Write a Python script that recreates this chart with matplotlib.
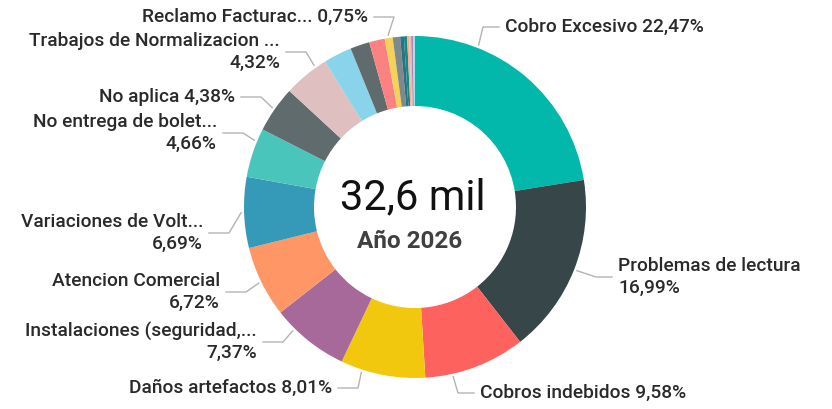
import matplotlib.pyplot as plt
import numpy as np

# Slices in drawing order (clockwise from 12 o'clock)
categories = ["Cobro Excesivo", "Problemas de lectura", "Cobros indebidos", "Daños artefactos",
              "Instalaciones (seguridad,...", "Atencion Comercial", "Variaciones de Volt...",
              "No entrega de bolet...", "No aplica", "Trabajos de Normalizacion ...",
              "Otro 1", "Otro 2", "Otro 3", "Reclamo Facturac...", "Otro 4",
              "Otro 5", "Otro 6", "Otro 7", "Otro 8", "Otro 9", "Otro 10"]
shares = [22.47, 16.99, 9.58, 8.01, 7.37, 6.72, 6.69, 4.66, 4.38, 4.32,
          2.67, 1.83, 1.47, 0.75, 0.70, 0.35, 0.30, 0.20, 0.18, 0.18, 0.18]
colors = ["#01B8AA", "#374649", "#FD625E", "#F2C80F", "#A66999", "#FE9666", "#3599B8",
          "#4AC5BB", "#5F6B6D", "#DFBFBF", "#8AD4EB", "#5F6B6D", "#FB8281", "#F4D25A",
          "#7F898A", "#28738A", "#168980", "#FDAB89", "#DFBFBF", "#B687AC", "#A4DDEE"]
total_label = "32,6 mil"
subtitle = "Año 2026"

# label layout: index -> (x, y, ha, two_lines) in pixel coords (y from top)
label_layout = {
    0: (505, 27, "left", False),
    1: (618, 277, "left", True),
    2: (480, 393, "left", False),
    3: (332, 388, "right", False),
    4: (257, 342, "right", True),
    5: (220, 292, "right", True),
    6: (203, 233, "right", True),
    7: (217, 133, "right", True),
    8: (235, 97, "right", False),
    9: (280, 52, "right", True),
    13: (368, 17, "right", False),
}
# where the leader leaves the ring, shift from the slice middle (degrees, clockwise)
leader_shift = {0: -19, 2: 8, 3: 7, 4: 6, 7: 4, 9: 4}

W, H = 832, 409
cx, cy = 415, 207
r_out, r_in = 171, 101

fig = plt.figure(figsize=(W / 100, H / 100), dpi=100)
ax = fig.add_axes([0, 0, 1, 1])

wedges, _ = ax.pie(shares, colors=colors, startangle=90, counterclock=False,
                   center=(cx, H - cy), radius=r_out,
                   wedgeprops=dict(width=r_out - r_in, edgecolor="none"))
# pie() resets the limits, so set them afterwards
ax.set_xlim(0, W)
ax.set_ylim(0, H)
ax.set_aspect("equal")
ax.axis("off")

font = "Roboto"
text_color = "#2a2a2a"
line_color = "#B3B3B3"

for i, (tx, ty, ha, two) in label_layout.items():
    pct = f"{shares[i]:.2f}".replace(".", ",") + "%"
    txt = f"{categories[i]}\n{pct}" if two else f"{categories[i]} {pct}"
    ax.text(tx, H - ty, txt, ha=ha, va="center", fontsize=13.8, family=font,
            fontweight="medium", color=text_color, multialignment=ha, linespacing=1.25)
    w = wedges[i]
    # theta is counter-clockwise, the shift is given clockwise
    ang = np.deg2rad((w.theta1 + w.theta2) / 2 - leader_shift.get(i, 0))
    sx = cx + (r_out + 3) * np.cos(ang)
    sy = (H - cy) + (r_out + 3) * np.sin(ang)
    if ha == "left":
        ex = tx - 6
        bx = ex - 16
    else:
        ex = tx + 6
        bx = ex + 20
    ax.plot([sx, bx, ex], [sy, H - ty, H - ty], color=line_color, lw=1)

ax.text(cx - 2, H - 198, total_label, ha="center", va="center", fontsize=30,
        family=font, color="#111111")
ax.text(cx - 5, H - 242, subtitle, ha="center", va="center", fontsize=17.5,
        family=font, fontweight="bold", color="#404040")

fig.savefig("out.png", dpi=100, facecolor="white")
